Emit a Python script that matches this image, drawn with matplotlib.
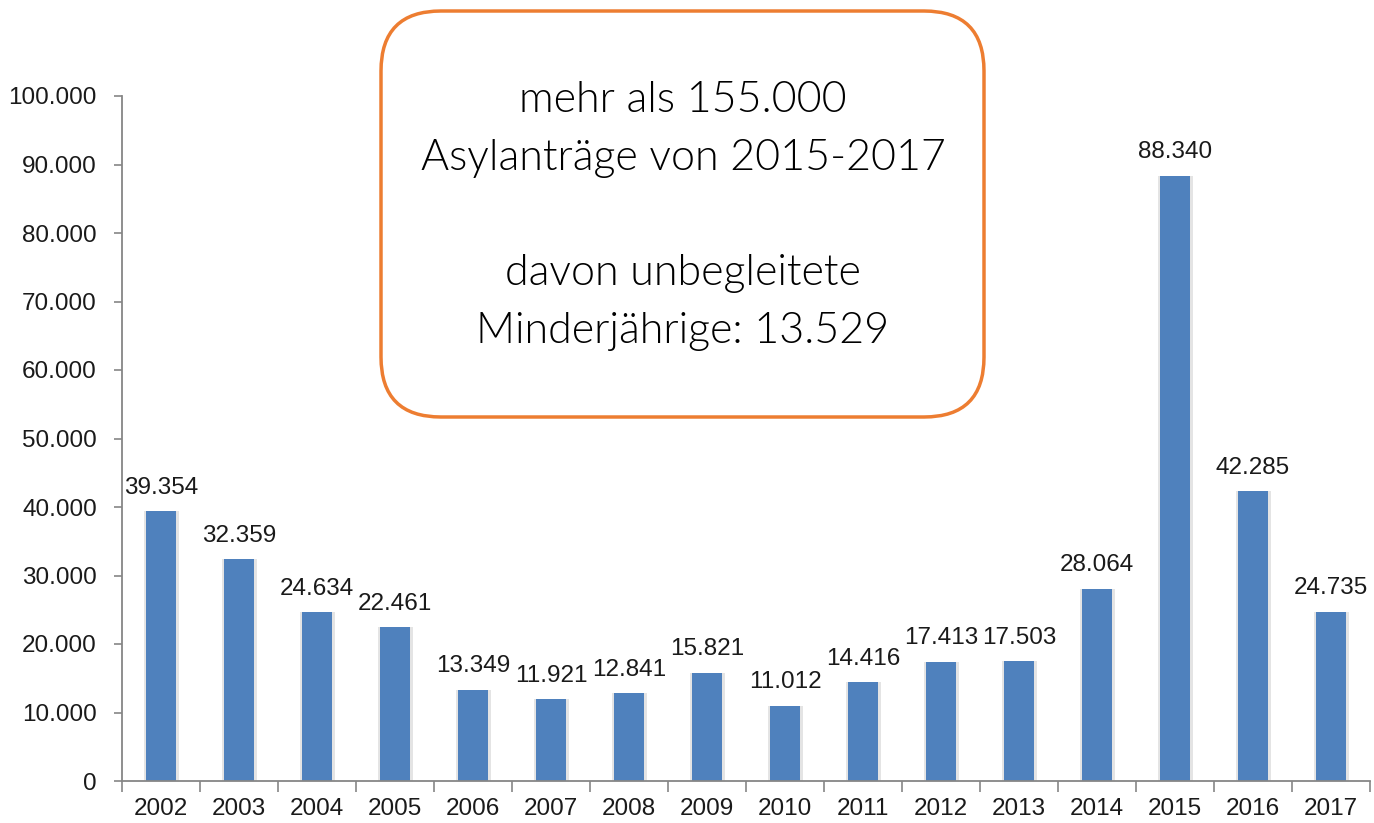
import matplotlib.pyplot as plt
from matplotlib.patches import FancyBboxPatch
from matplotlib.ticker import FuncFormatter, FixedLocator
import numpy as np

# Asylanträge pro Jahr
years = ["2002", "2003", "2004", "2005", "2006", "2007", "2008", "2009",
         "2010", "2011", "2012", "2013", "2014", "2015", "2016", "2017"]
antraege = [39354, 32359, 24634, 22461, 13349, 11921, 12841, 15821,
            11012, 14416, 17413, 17503, 28064, 88340, 42285, 24735]
labels = ["39.354", "32.359", "24.634", "22.461", "13.349", "11.921", "12.841", "15.821",
          "11.012", "14.416", "17.413", "17.503", "28.064", "88.340", "42.285", "24.735"]

box_lines = ["mehr als 155.000", "Asylanträge von 2015-2017", "",
             "davon unbegleitete", "Minderjährige: 13.529"]

plt.rcParams['font.family'] = ['Liberation Sans', 'DejaVu Sans']

fig = plt.figure(figsize=(13.74, 8.23), dpi=100)
ax = fig.add_axes([122 / 1374, 1 - 781 / 823, (1370 - 122) / 1374, (781 - 96) / 823])

x = np.arange(len(years))
bar_w = 0.38
# leichter Schatten hinter den Balken
ax.bar(x + 0.01, antraege, width=bar_w + 0.07, color="#e4e4e4", zorder=1)
ax.bar(x, antraege, width=bar_w, color="#4f81bd", zorder=2)

for xi, v, lab in zip(x, antraege, labels):
    ax.annotate(lab, (xi, v), xytext=(0, 9), textcoords="offset points",
                ha="center", va="bottom", fontsize=17.5, color="#1a1a1a")

ax.set_xlim(-0.5, len(years) - 0.5)
ax.set_ylim(0, 100000)
ax.set_yticks(np.arange(0, 100001, 10000))
ax.yaxis.set_major_formatter(FuncFormatter(lambda v, p: f"{int(v):,}".replace(",", ".")))

ax.set_xticks(x)
ax.set_xticklabels(years)
ax.xaxis.set_minor_locator(FixedLocator(np.arange(-0.5, len(years), 1.0)))
ax.tick_params(axis="x", which="major", length=0, pad=12, labelsize=17.5, labelcolor="#1a1a1a")
ax.tick_params(axis="x", which="minor", length=8, width=1.2, color="#868686")
ax.tick_params(axis="y", length=6, width=1.2, color="#868686", pad=12,
               labelsize=17.5, labelcolor="#1a1a1a")

for s in ["top", "right"]:
    ax.spines[s].set_visible(False)
for s in ["left", "bottom"]:
    ax.spines[s].set_color("#868686")
    ax.spines[s].set_linewidth(1.3)

# Textbox in Pixelkoordinaten
ov = fig.add_axes([0, 0, 1, 1], facecolor="none")
ov.set_xlim(0, 1374)
ov.set_ylim(823, 0)
ov.axis("off")
box = FancyBboxPatch((381, 11), 603, 406, boxstyle="round,pad=0,rounding_size=60",
                     facecolor="white", edgecolor="#ed7d31", linewidth=2.5, zorder=5)
ov.add_patch(box)
ov.text(683, 216, "\n".join(box_lines), ha="center", va="center", fontsize=31,
        family=["Lato", "DejaVu Sans"], fontweight=300, color="black",
        linespacing=1.6, zorder=6)

fig.savefig("out.png", dpi=100)
